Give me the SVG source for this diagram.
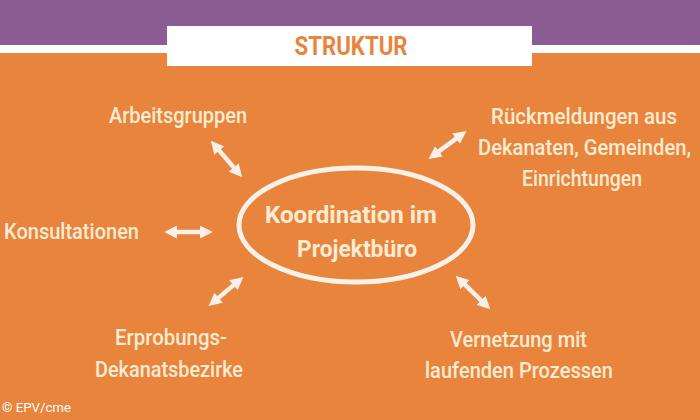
<svg xmlns="http://www.w3.org/2000/svg" width="700" height="420" viewBox="0 0 700 420">
<defs>
<marker id="ah" viewBox="0 0 10 10" refX="4" refY="5" markerWidth="13" markerHeight="13" markerUnits="userSpaceOnUse" orient="auto-start-reverse">
<path d="M0,0 L10,5 L0,10 z" fill="#f8f1ea"/>
</marker>
<style>
.lbl{font-family:Roboto,"Liberation Sans",sans-serif;font-size:22.5px;font-weight:500;fill:#fcebd3;text-anchor:middle}
.ctr{font-family:Roboto,"Liberation Sans",sans-serif;font-size:23.5px;font-weight:bold;fill:#fcebd3;text-anchor:middle}
.arr{stroke:#f8f1ea;stroke-width:4.5;fill:none;marker-start:url(#ah);marker-end:url(#ah)}
</style>
</defs>
<rect x="0" y="0" width="700" height="420" fill="#e8843c"/>
<rect x="0" y="0" width="700" height="45" fill="#8b5b94"/>
<rect x="0" y="45" width="700" height="8" fill="#ffffff"/>
<g id="title">
<rect x="167" y="26" width="365" height="40" fill="#ffffff"/>
<text x="351" y="55" textLength="113" lengthAdjust="spacingAndGlyphs" style="font-family:Roboto,'Liberation Sans',sans-serif;font-size:25.5px;font-weight:bold;fill:#e8843c;text-anchor:middle">STRUKTUR</text>
</g>
<g id="center">
<ellipse cx="356" cy="225" rx="117" ry="57" fill="none" stroke="#f8f1ea" stroke-width="5"/>
<text class="ctr" x="351" y="223" textLength="172" lengthAdjust="spacingAndGlyphs">Koordination im</text>
<text class="ctr" x="357" y="257" textLength="120" lengthAdjust="spacingAndGlyphs">Projektbüro</text>
</g>
<g id="connectors">
<line class="arr" x1="215.9" y1="146.6" x2="237.1" y2="171.4"/>
<line class="arr" x1="172" y1="232" x2="205" y2="232"/>
<line class="arr" x1="434.8" y1="154.4" x2="460.2" y2="135.6"/>
<line class="arr" x1="214.6" y1="301.1" x2="237.4" y2="281.9"/>
<line class="arr" x1="461.3" y1="281.2" x2="484.7" y2="303.8"/>
</g>
<g id="arbeitsgruppen">
<text class="lbl" x="178" y="123" textLength="138" lengthAdjust="spacingAndGlyphs">Arbeitsgruppen</text>
</g>
<g id="konsultationen">
<text class="lbl" x="71.5" y="239" textLength="135" lengthAdjust="spacingAndGlyphs">Konsultationen</text>
</g>
<g id="rueckmeldungen">
<text class="lbl" x="584" y="124" textLength="186" lengthAdjust="spacingAndGlyphs">Rückmeldungen aus</text>
<text class="lbl" x="691" y="155" textLength="213" lengthAdjust="spacingAndGlyphs" style="text-anchor:end">Dekanaten, Gemeinden,</text>
<text class="lbl" x="582" y="186" textLength="120" lengthAdjust="spacingAndGlyphs">Einrichtungen</text>
</g>
<g id="vernetzung">
<text class="lbl" x="518.5" y="347" textLength="137" lengthAdjust="spacingAndGlyphs">Vernetzung mit</text>
<text class="lbl" x="519" y="378" textLength="188" lengthAdjust="spacingAndGlyphs">laufenden Prozessen</text>
</g>
<g id="erprobung">
<text class="lbl" x="171" y="345" textLength="112" lengthAdjust="spacingAndGlyphs">Erprobungs-</text>
<text class="lbl" x="169" y="377" textLength="148" lengthAdjust="spacingAndGlyphs">Dekanatsbezirke</text>
</g>
<text x="2" y="412" style="font-family:Roboto,'Liberation Sans',sans-serif;font-size:13px;fill:#ffffff" textLength="69" lengthAdjust="spacingAndGlyphs">© EPV/cme</text>
</svg>
